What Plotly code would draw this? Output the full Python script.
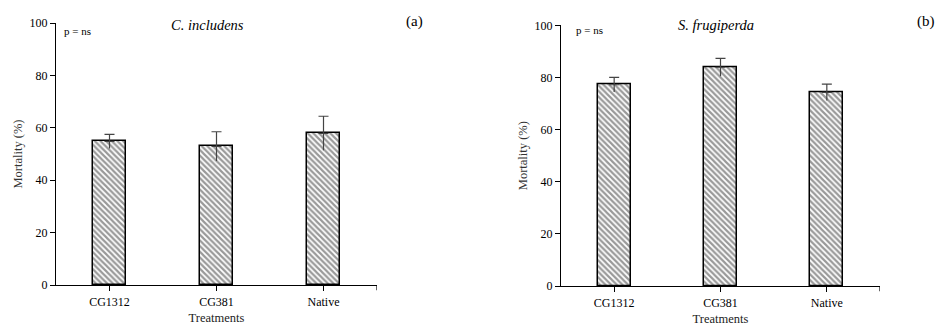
import plotly.graph_objects as go

categories = ["CG1312", "CG381", "Native"]
mort_ci = [54.8, 52.9, 57.9]
err_ci = [2.7, 5.6, 6.5]
mort_sf = [77.2, 83.9, 74.3]
err_sf = [2.8, 3.4, 3.1]
y_ticks = [0, 20, 40, 60, 80, 100]

FONT = "Liberation Serif"
fig = go.Figure()

def add_panel(vals, errs, xa, ya):
    fig.add_trace(go.Bar(
        x=categories, y=vals, width=0.31, xaxis=xa, yaxis=ya,
        marker=dict(color="white", line=dict(color="black", width=1.5),
                    pattern=dict(shape="\\", size=4, solidity=0.55,
                                 fgcolor="#333", bgcolor="white")),
        error_y=dict(type="data", array=errs, arrayminus=[0]*len(errs),
                     color="#444", thickness=1.2, width=5),
        showlegend=False))
    fig.add_trace(go.Scatter(
        x=categories, y=vals, mode="markers", xaxis=xa, yaxis=ya,
        marker=dict(opacity=0, size=1),
        error_y=dict(type="data", array=[0]*len(errs), arrayminus=errs,
                     color="#444", thickness=1.2, width=0),
        showlegend=False, hoverinfo="skip"))

add_panel(mort_ci, err_ci, "x", "y")
add_panel(mort_sf, err_sf, "x2", "y2")

xcommon = dict(type="category", range=[-0.5, 2.5], showline=True, linecolor="black",
               linewidth=1.2, ticks="outside", ticklen=5, tickcolor="black",
               tickfont=dict(family=FONT, size=12, color="black"),
               tickmode="array", tickvals=[0, 1, 2], ticktext=categories,
               showgrid=False, zeroline=False, automargin=False,
               title=dict(text="Treatments", font=dict(family=FONT, size=12.5, color="#222"), standoff=5))
ycommon = dict(range=[0, 100], tickvals=y_ticks, showline=True, linecolor="black",
               linewidth=1.2, ticks="outside", ticklen=5, tickcolor="black",
               tickfont=dict(family=FONT, size=12, color="black"),
               showgrid=False, zeroline=False, automargin=False,
               title=dict(text="Mortality (%)", font=dict(family=FONT, size=12.5, color="#333"), standoff=4))

fig.update_layout(
    width=945, height=336, margin=dict(l=0, r=0, t=0, b=0, autoexpand=False),
    font=dict(family=FONT, color="black"),
    plot_bgcolor="white", paper_bgcolor="white",
    xaxis=dict(domain=[56/945, 377/945], anchor="y", **xcommon),
    yaxis=dict(domain=[(336-285)/336, (336-23)/336], anchor="x", **ycommon),
    xaxis2=dict(domain=[561/945, 880/945], anchor="y2", **xcommon),
    yaxis2=dict(domain=[(336-286)/336, (336-25.3)/336], anchor="x2", **ycommon),
    bargap=0,
)

# end tick marks on the x axes
for xr, yr in [("x", "y"), ("x2", "y2")]:
    fig.add_shape(type="line", xref=xr, yref=yr + " domain", x0=2.5, x1=2.5, y0=0, y1=-0.02,
                  line=dict(color="black", width=1.2))

ann = [
    dict(text="<i>C. includens</i>", x=207, y=25, size=14.5),
    dict(text="(a)", x=414, y=22, size=15),
    dict(text="p = ns", x=77, y=31, size=11),
    dict(text="<i>S. frugiperda</i>", x=716, y=25, size=14.5),
    dict(text="(b)", x=926, y=22, size=15),
    dict(text="p = ns", x=589, y=30, size=11),
]
for a in ann:
    fig.add_annotation(text=a["text"], xref="paper", yref="paper",
                       x=a["x"]/945, y=1 - a["y"]/336, xanchor="center", yanchor="middle",
                       showarrow=False, font=dict(family=FONT, size=a["size"], color="black"))

fig.write_html("out.html", config={"displayModeBar": False},
               post_script="document.body.style.margin='0';")
